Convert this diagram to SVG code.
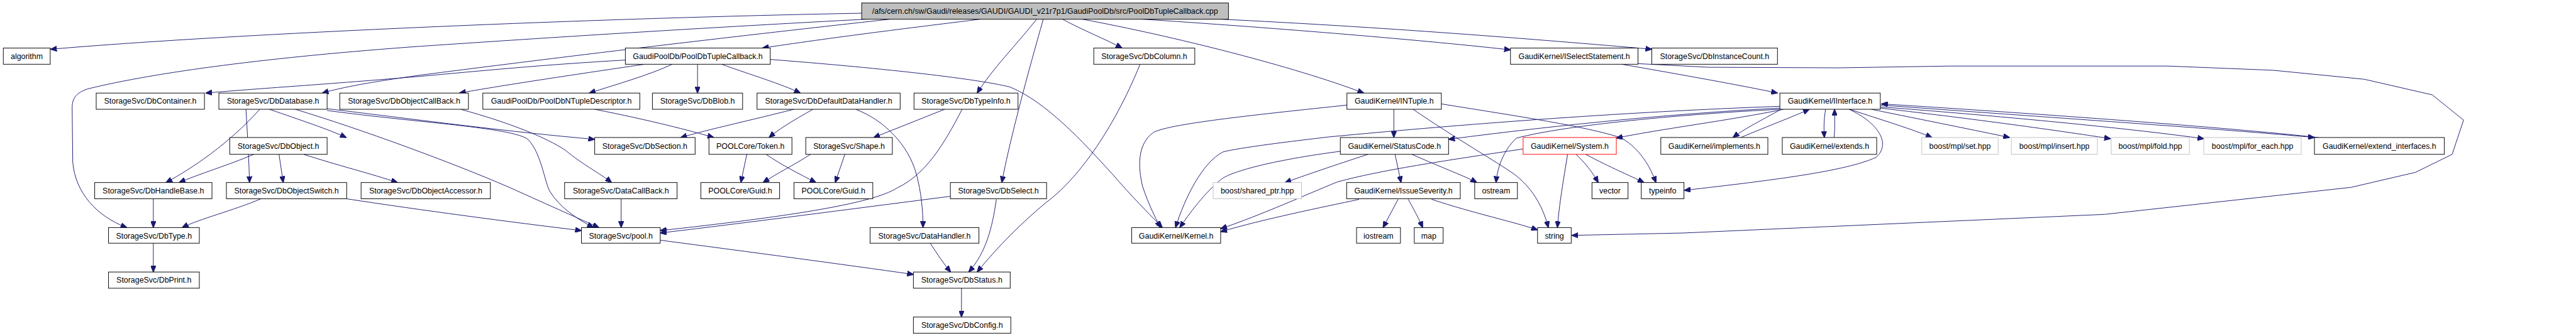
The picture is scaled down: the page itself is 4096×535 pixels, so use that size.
<svg xmlns="http://www.w3.org/2000/svg" width="4096" height="535" viewBox="0 0 4096 535">
<style>
.node rect{fill:#fff;stroke:#000;stroke-width:1}
.node.gray rect{stroke:#bfbfbf}
.node.red rect{stroke:#ff0000}
.node.root rect{fill:#bfbfbf}
.node text{font-family:"Liberation Sans",Arial,sans-serif;font-size:13px;fill:#000;text-anchor:middle}
.edges path{fill:none;stroke:#191970;stroke-width:1;marker-end:url(#ah)}
</style>
<defs>
<marker id="ah" markerUnits="userSpaceOnUse" markerWidth="11" markerHeight="9" viewBox="0 0 11 9" refX="10.5" refY="4.5" orient="auto">
<path d="M0,0 L11,4.5 L0,9 z" fill="#191970" stroke="#191970"/>
</marker>
</defs>
<rect x="0" y="0" width="4096" height="535" fill="#fff"/>
<g transform="scale(0.95612)">
<g class="edges">
<!-- root -->
<path d="M1433,22 C1000,30 400,55 84,82"/>
<path d="M1440,32 C1100,50 850,67 700,77 C450,95 260,120 146,148 C125,155 120,165 120,180 L121,270 C125,320 160,360 211,379"/>
<path d="M1480,32 C1300,52 1050,80 700,125 C620,136 570,145 536,155"/>
<path d="M1630,32 C1550,42 1400,60 1268,80"/>
<path d="M1724,32 C1690,75 1650,115 1625,155"/>
<path d="M1735,32 C1710,120 1680,230 1666,304"/>
<path d="M1767,32 C1800,50 1840,66 1866,80"/>
<path d="M1800,32 C1950,60 2150,110 2268,155"/>
<path d="M1900,32 C2100,45 2350,65 2512,83"/>
<path d="M2030,32 C2300,45 2550,65 2747,82"/>
<!-- PoolDbTupleCallback.h -->
<path d="M1040,100 C900,108 800,118 700,127 C550,140 420,148 342,155"/>
<path d="M1072,107 C950,125 830,143 764,155"/>
<path d="M1118,107 C1080,125 1020,142 980,155"/>
<path d="M1160,107 L1160,155"/>
<path d="M1200,107 C1250,125 1300,140 1331,155"/>
<path d="M1281,99 C1450,112 1620,130 1680,145 C1740,170 1800,235 1850,290 C1880,325 1910,355 1933,379"/>
<!-- DbColumn -->
<path d="M1896,107 C1850,220 1790,300 1740,337 C1700,370 1660,410 1625,453"/>
<!-- DbTypeInfo -->
<path d="M1571,182 L1453,229"/>
<path d="M1600,182 C1570,240 1540,290 1492,313 C1450,340 1300,362 1098,384"/>
<!-- DbSelect -->
<path d="M1580,327 C1400,350 1250,370 1098,388"/>
<path d="M1657,332 C1650,380 1640,420 1611,453"/>
<!-- DataHandler, DbStatus, pool, DataCallBack -->
<path d="M1547,405 C1560,425 1570,440 1581,453"/>
<path d="M1599,480 L1599,528"/>
<path d="M1098,400 C1250,420 1400,440 1519,457"/>
<path d="M1033,331 L1033,379"/>
<!-- DbDefaultDataHandler -->
<path d="M1320,182 C1250,200 1180,215 1132,229"/>
<path d="M1352,182 C1320,200 1295,215 1279,229"/>
<path d="M1423,182 C1470,200 1510,240 1524,290 C1532,320 1535,350 1535,379"/>
<!-- NTupleDescriptor, ObjectCallBack -->
<path d="M989,182 C1080,200 1150,218 1187,229"/>
<path d="M766,182 C850,205 910,230 940,250 C970,275 1000,290 1017,304"/>
<!-- Token, Shape -->
<path d="M1242,257 L1232,304"/>
<path d="M1274,257 C1300,275 1330,290 1357,304"/>
<path d="M1348,257 C1320,275 1290,290 1269,304"/>
<path d="M1405,257 L1389,304"/>
<!-- DbContainer -->
<path d="M409,182 C412,230 414,270 415,304"/>
<path d="M448,182 C500,200 545,215 576,229"/>
<path d="M491,182 C600,215 750,270 847,312 C920,345 965,365 996,379"/>
<!-- DbDatabase -->
<path d="M432,182 C380,240 320,280 276,304"/>
<path d="M544,181 C700,200 850,220 989,232"/>
<path d="M544,184 C700,205 850,212 878,232 C900,255 905,300 914,318 C930,345 960,365 987,379"/>
<!-- DbObject -->
<path d="M422,257 C380,275 330,290 298,304"/>
<path d="M464,257 L471,304"/>
<path d="M505,257 C560,275 620,290 661,304"/>
<!-- DbObjectSwitch, DbHandleBase, DbType -->
<path d="M434,331 C390,350 330,365 303,379"/>
<path d="M576,331 C700,350 850,370 967,384"/>
<path d="M255,331 L255,379"/>
<path d="M255,405 L255,453"/>
<!-- INTuple -->
<path d="M2318,182 L2318,229"/>
<path d="M2240,175 C2100,190 1950,205 1919,220 C1890,240 1893,280 1900,310 C1910,340 1920,360 1930,379"/>
<path d="M2350,182 C2420,230 2490,270 2518,290 C2545,310 2565,340 2575,379"/>
<path d="M2397,173 C2500,190 2640,210 2697,230 C2730,250 2745,280 2754,304"/>
<!-- StatusCode -->
<path d="M2320,257 L2330,304"/>
<path d="M2348,257 C2400,280 2440,295 2456,304"/>
<path d="M2275,257 C2220,275 2170,292 2137,304"/>
<path d="M2229,252 C2150,262 2060,280 2033,297 C2010,315 1985,345 1962,379"/>
<!-- IInterface -->
<path d="M2960,177 C2800,183 2560,195 2210,228 C2150,235 2060,246 2034,253 C2000,270 1970,330 1955,379"/>
<path d="M2960,180 C2800,188 2600,207 2409,232"/>
<path d="M2960,182 C2800,190 2605,208 2522,230 C2500,250 2490,280 2488,304"/>
<path d="M2966,182 C2880,200 2760,215 2688,230"/>
<path d="M3075,182 C3125,205 3145,240 3120,262 C3070,285 2950,300 2801,317"/>
<path d="M2962,182 C2930,200 2900,215 2882,229"/>
<path d="M2895,229 C2940,210 2980,195 3009,182"/>
<path d="M3036,182 C3033,200 3033,215 3034,229"/>
<path d="M3050,229 C3052,215 3051,200 3051,182"/>
<path d="M3076,182 C3130,200 3180,215 3213,229"/>
<path d="M3112,182 C3200,200 3290,218 3342,229"/>
<path d="M3127,180 C3300,200 3440,220 3510,231"/>
<path d="M3127,178 C3350,195 3550,215 3665,231"/>
<path d="M3127,175 C3400,195 3700,215 3849,229"/>
<path d="M3856,229 C3700,212 3400,190 3129,173"/>
<!-- System -->
<path d="M2533,248 C2400,268 2297,283 2224,303 C2170,325 2100,357 2030,381"/>
<path d="M2607,257 C2600,300 2593,340 2590,379"/>
<path d="M2621,257 C2640,275 2650,290 2658,304"/>
<path d="M2637,257 C2680,280 2710,292 2734,304"/>
<!-- IssueSeverity -->
<path d="M2260,332 C2200,345 2100,365 2030,386"/>
<path d="M2325,332 L2300,379"/>
<path d="M2342,332 C2352,350 2360,365 2366,379"/>
<path d="M2381,332 C2450,355 2520,370 2557,383"/>
<!-- ISelectStatement -->
<path d="M2697,107 C2800,125 2900,143 2956,155"/>
<path d="M2724,106 L2841,112 L3057,113 L3241,110 L3605,110 L3780,117 L3932,132 L4045,158 L4097,200 L4078,257 L4017,287 L3910,312 L3500,357 L2800,388 L2614,392"/>
</g>

<g id="n_root" class="node root"><rect x="1433" y="5" width="610" height="27"/><text x="1738" y="23">/afs/cern.ch/sw/Gaudi/releases/GAUDI/GAUDI_v21r7p1/GaudiPoolDb/src/PoolDbTupleCallback.cpp</text></g>

<g id="n_algorithm" class="node"><rect x="5.5" y="80" width="78" height="27"/><text x="44.5" y="98">algorithm</text></g>
<g id="n_PoolDbTupleCallback" class="node"><rect x="1040" y="80" width="241" height="27"/><text x="1160.5" y="98">GaudiPoolDb/PoolDbTupleCallback.h</text></g>
<g id="n_DbColumn" class="node"><rect x="1819" y="80" width="168" height="27"/><text x="1903" y="98">StorageSvc/DbColumn.h</text></g>
<g id="n_ISelectStatement" class="node"><rect x="2512" y="80" width="212" height="27"/><text x="2618" y="98">GaudiKernel/ISelectStatement.h</text></g>
<g id="n_DbInstanceCount" class="node"><rect x="2747" y="80" width="209" height="27"/><text x="2851.5" y="98">StorageSvc/DbInstanceCount.h</text></g>

<g id="n_DbContainer" class="node"><rect x="160" y="155" width="180" height="27"/><text x="250" y="173">StorageSvc/DbContainer.h</text></g>
<g id="n_DbDatabase" class="node"><rect x="364" y="155" width="180" height="27"/><text x="454" y="173">StorageSvc/DbDatabase.h</text></g>
<g id="n_DbObjectCallBack" class="node"><rect x="565" y="155" width="214" height="27"/><text x="672" y="173">StorageSvc/DbObjectCallBack.h</text></g>
<g id="n_PoolDbNTupleDescriptor" class="node"><rect x="803" y="155" width="261" height="27"/><text x="933.5" y="173">GaudiPoolDb/PoolDbNTupleDescriptor.h</text></g>
<g id="n_DbBlob" class="node"><rect x="1085" y="155" width="150" height="27"/><text x="1160" y="173">StorageSvc/DbBlob.h</text></g>
<g id="n_DbDefaultDataHandler" class="node"><rect x="1259" y="155" width="238" height="27"/><text x="1378" y="173">StorageSvc/DbDefaultDataHandler.h</text></g>
<g id="n_DbTypeInfo" class="node"><rect x="1520" y="155" width="173" height="27"/><text x="1606.5" y="173">StorageSvc/DbTypeInfo.h</text></g>
<g id="n_INTuple" class="node"><rect x="2240" y="155" width="157" height="27"/><text x="2318.5" y="173">GaudiKernel/INTuple.h</text></g>
<g id="n_IInterface" class="node"><rect x="2960" y="155" width="167" height="27"/><text x="3043.5" y="173">GaudiKernel/IInterface.h</text></g>

<g id="n_DbObject" class="node"><rect x="382" y="229" width="162" height="28"/><text x="463" y="248">StorageSvc/DbObject.h</text></g>
<g id="n_DbSection" class="node"><rect x="989" y="229" width="167" height="28"/><text x="1072.5" y="248">StorageSvc/DbSection.h</text></g>
<g id="n_Token" class="node"><rect x="1179" y="229" width="138" height="28"/><text x="1248" y="248">POOLCore/Token.h</text></g>
<g id="n_Shape" class="node"><rect x="1340" y="229" width="144" height="28"/><text x="1412" y="248">StorageSvc/Shape.h</text></g>
<g id="n_StatusCode" class="node"><rect x="2229" y="229" width="180" height="28"/><text x="2319" y="248">GaudiKernel/StatusCode.h</text></g>
<g id="n_System" class="node red"><rect x="2533" y="229" width="155" height="28"/><text x="2610.5" y="248">GaudiKernel/System.h</text></g>
<g id="n_implements" class="node"><rect x="2762" y="229" width="178" height="28"/><text x="2851" y="248">GaudiKernel/implements.h</text></g>
<g id="n_extends" class="node"><rect x="2964" y="229" width="157" height="28"/><text x="3042.5" y="248">GaudiKernel/extends.h</text></g>
<g id="n_set" class="node gray"><rect x="3196" y="229" width="127" height="28"/><text x="3259.5" y="248">boost/mpl/set.hpp</text></g>
<g id="n_insert" class="node gray"><rect x="3345" y="229" width="143" height="28"/><text x="3416.5" y="248">boost/mpl/insert.hpp</text></g>
<g id="n_fold" class="node gray"><rect x="3511" y="229" width="130" height="28"/><text x="3576" y="248">boost/mpl/fold.hpp</text></g>
<g id="n_for_each" class="node gray"><rect x="3665" y="229" width="162" height="28"/><text x="3746" y="248">boost/mpl/for_each.hpp</text></g>
<g id="n_extend_interfaces" class="node"><rect x="3849" y="229" width="216" height="28"/><text x="3957" y="248">GaudiKernel/extend_interfaces.h</text></g>

<g id="n_DbHandleBase" class="node"><rect x="157.5" y="304" width="195" height="27"/><text x="255" y="322">StorageSvc/DbHandleBase.h</text></g>
<g id="n_DbObjectSwitch" class="node"><rect x="376.5" y="304" width="200" height="27"/><text x="476.5" y="322">StorageSvc/DbObjectSwitch.h</text></g>
<g id="n_DbObjectAccessor" class="node"><rect x="600.5" y="304" width="215" height="27"/><text x="708" y="322">StorageSvc/DbObjectAccessor.h</text></g>
<g id="n_DataCallBack" class="node"><rect x="939" y="304" width="187" height="27"/><text x="1032.5" y="322">StorageSvc/DataCallBack.h</text></g>
<g id="n_Guid1" class="node"><rect x="1165.5" y="304" width="131" height="27"/><text x="1231" y="322">POOLCore/Guid.h</text></g>
<g id="n_Guid2" class="node"><rect x="1320.5" y="304" width="131" height="27"/><text x="1386" y="322">POOLCore/Guid.h</text></g>
<g id="n_DbSelect" class="node"><rect x="1580.5" y="304" width="160" height="27"/><text x="1660.5" y="322">StorageSvc/DbSelect.h</text></g>
<g id="n_shared_ptr" class="node gray"><rect x="2017.5" y="304" width="147" height="27"/><text x="2091" y="322">boost/shared_ptr.hpp</text></g>
<g id="n_IssueSeverity" class="node"><rect x="2239.5" y="304" width="189" height="27"/><text x="2334" y="322">GaudiKernel/IssueSeverity.h</text></g>
<g id="n_ostream" class="node"><rect x="2452.5" y="304" width="71" height="27"/><text x="2488" y="322">ostream</text></g>
<g id="n_vector" class="node"><rect x="2647.5" y="304" width="60" height="27"/><text x="2677.5" y="322">vector</text></g>
<g id="n_typeinfo" class="node"><rect x="2729.5" y="304" width="71" height="27"/><text x="2765" y="322">typeinfo</text></g>

<g id="n_DbType" class="node"><rect x="180.5" y="379" width="151" height="26"/><text x="256" y="397">StorageSvc/DbType.h</text></g>
<g id="n_pool" class="node"><rect x="967" y="379" width="131" height="26"/><text x="1032.5" y="397">StorageSvc/pool.h</text></g>
<g id="n_DataHandler" class="node"><rect x="1447" y="379" width="181" height="26"/><text x="1537.5" y="397">StorageSvc/DataHandler.h</text></g>
<g id="n_Kernel" class="node"><rect x="1882" y="379" width="148" height="26"/><text x="1956" y="397">GaudiKernel/Kernel.h</text></g>
<g id="n_iostream" class="node"><rect x="2256" y="379" width="73" height="26"/><text x="2292.5" y="397">iostream</text></g>
<g id="n_map" class="node"><rect x="2352" y="379" width="48" height="26"/><text x="2376" y="397">map</text></g>
<g id="n_string" class="node"><rect x="2557" y="379" width="56" height="26"/><text x="2585" y="397">string</text></g>

<g id="n_DbPrint" class="node"><rect x="180.5" y="453" width="151" height="27"/><text x="256" y="471">StorageSvc/DbPrint.h</text></g>
<g id="n_DbStatus" class="node"><rect x="1519" y="453" width="161" height="27"/><text x="1599.5" y="471">StorageSvc/DbStatus.h</text></g>
<g id="n_DbConfig" class="node"><rect x="1519" y="528" width="162" height="27"/><text x="1600" y="546">StorageSvc/DbConfig.h</text></g>
</g>
</svg>
